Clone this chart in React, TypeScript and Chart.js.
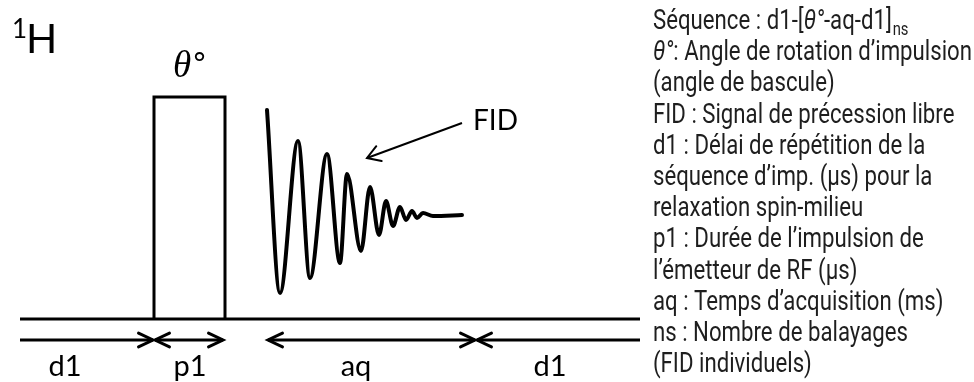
import React, { useEffect, useRef } from 'react';
import { Chart, registerables } from 'chart.js';

Chart.register(...registerables);

// ---- Sequence data (x: position along the time line, y: amplitude above the base line) ----
const X_RANGE = [0, 974];
const Y_RANGE = [-63, 319];

const TRACK_START = 20;
const TRACK_END = 640;

const PULSE_START = 154;
const PULSE_END = 225;
const PULSE_HEIGHT = 222;
const PULSE_LABEL = 'θ';

const FID_TIME = [267, 280, 298, 310, 327, 340, 347, 361, 370, 379, 386, 393, 400, 406, 412, 417, 423, 433, 462];
const FID_SIGNAL = [209, 26, 178, 41, 165, 56, 145, 68, 132, 84, 118, 93, 112, 99, 108, 101, 106, 103, 104];

const FID_POINTER_X = [462, 367];
const FID_POINTER_Y = [196, 161];
const FID_LABEL = 'FID';
const FID_LABEL_X = 473;
const FID_LABEL_Y = 189;

const DURATION_LABELS = ['d1', 'p1', 'aq', 'd1'];
const DURATION_START = [20, 155, 268, 477];
const DURATION_END = [153, 223, 475, 640];
const DURATION_HEAD_START = [false, true, true, true];
const DURATION_HEAD_END = [true, true, true, false];
const DURATION_LABEL_X = [65, 190, 356, 550];
const DURATION_LEVEL = -21;
const DURATION_LABEL_LEVEL = -57;

const NUCLEUS_MASS = '1';
const NUCLEUS_SYMBOL = 'H';

const NOTE_LINES = [
  'Séquence : d1-[θ°-aq-d1]_ns',
  'θ°: Angle de rotation d’impulsion',
  '(angle de bascule)',
  'FID : Signal de précession libre',
  'd1 : Délai de répétition de la',
  'séquence d’imp. (µs) pour la',
  'relaxation spin-milieu',
  'p1 : Durée de l’impulsion de',
  'l’émetteur de RF (µs)',
  'aq : Temps d’acquisition (ms)',
  'ns : Nombre de balayages',
  '(FID individuels)',
];

const INK = '#000000';
const NOTE_INK = '#1e1e1e';
const LABEL_FONT = 'Lato, "Open Sans", sans-serif';
const NOTE_FONT = 'Roboto, "Liberation Sans", sans-serif';
const NOTE_WEIGHT = '400';

function drawHead(ctx: CanvasRenderingContext2D, tx: number, ty: number, fx: number, fy: number, len: number, spread: number, width: number) {
  const ang = Math.atan2(fy - ty, fx - tx);
  ctx.save();
  ctx.lineWidth = width;
  ctx.lineCap = 'round';
  ctx.lineJoin = 'miter';
  ctx.strokeStyle = INK;
  ctx.beginPath();
  ctx.moveTo(tx + len * Math.cos(ang + spread), ty + len * Math.sin(ang + spread));
  ctx.lineTo(tx, ty);
  ctx.lineTo(tx + len * Math.cos(ang - spread), ty + len * Math.sin(ang - spread));
  ctx.stroke();
  ctx.restore();
}

function noteFont(size: number, italic: boolean) {
  return (italic ? 'italic ' : '') + NOTE_WEIGHT + ' ' + size + 'px ' + NOTE_FONT;
}

function drawNoteLine(ctx: CanvasRenderingContext2D, line: string, x: number, y: number, size: number, sx: number) {
  const [main, sub] = line.split('_');
  ctx.save();
  ctx.translate(x, y);
  ctx.scale(sx, 1);
  let cx = 0;
  main.split(/(θ°?)/).forEach((part) => {
    if (!part) return;
    ctx.font = noteFont(size, part.startsWith('θ'));
    ctx.fillText(part, cx, 0);
    cx += ctx.measureText(part).width;
  });
  if (sub) {
    ctx.font = noteFont(Math.round(size * 0.68), false);
    ctx.fillText(sub, cx + 1, size * 0.24);
  }
  ctx.restore();
}

const diagramPlugin = {
  id: 'pulseDiagram',
  afterDatasetsDraw(chart: any) {
    const ctx: CanvasRenderingContext2D = chart.ctx;
    const xs = chart.scales.x;
    const ys = chart.scales.y;
    const px = (v: number) => xs.getPixelForValue(v);
    const py = (v: number) => ys.getPixelForValue(v);

    // duration arrowheads
    DURATION_START.forEach((s, i) => {
      const e = DURATION_END[i];
      const y = py(DURATION_LEVEL);
      if (DURATION_HEAD_START[i]) drawHead(ctx, px(s), y, px(e), y, 16, 0.44, 3);
      if (DURATION_HEAD_END[i]) drawHead(ctx, px(e), y, px(s), y, 16, 0.44, 3);
    });

    // FID pointer head
    drawHead(ctx, px(FID_POINTER_X[1]), py(FID_POINTER_Y[1]), px(FID_POINTER_X[0]), py(FID_POINTER_Y[0]), 15, 0.55, 2);

    ctx.save();
    ctx.fillStyle = INK;
    ctx.textBaseline = 'alphabetic';

    // duration labels
    ctx.font = '29px ' + LABEL_FONT;
    ctx.textAlign = 'center';
    DURATION_LABELS.forEach((lab, i) => {
      ctx.fillText(lab, px(DURATION_LABEL_X[i]), py(DURATION_LABEL_LEVEL));
    });

    // FID label
    ctx.textAlign = 'left';
    ctx.font = '28px ' + LABEL_FONT;
    ctx.fillText(FID_LABEL, px(FID_LABEL_X), py(FID_LABEL_Y));

    // nucleus label
    ctx.font = '26px ' + LABEL_FONT;
    ctx.fillText(NUCLEUS_MASS, 12, 38);
    ctx.font = '41px ' + LABEL_FONT;
    ctx.fillText(NUCLEUS_SYMBOL, 26, 53);

    // pulse angle label
    const cx = (px(PULSE_START) + px(PULSE_END)) / 2;
    ctx.font = 'italic 37px "Liberation Serif", serif';
    const tw = ctx.measureText(PULSE_LABEL).width;
    ctx.font = '30px "DejaVu Sans", sans-serif';
    const dw = ctx.measureText('°').width;
    const startX = cx - (tw + dw) / 2;
    ctx.font = 'italic 37px "Liberation Serif", serif';
    ctx.fillText(PULSE_LABEL, startX, 77);
    ctx.font = '30px "DejaVu Sans", sans-serif';
    ctx.fillText('°', startX + tw + 1, 74);

    // notes
    ctx.fillStyle = NOTE_INK;
    const size = 27;
    let ref = 0;
    NOTE_LINES[1].split(/(θ°?)/).forEach((p) => {
      if (!p) return;
      ctx.font = noteFont(size, p.startsWith('θ'));
      ref += ctx.measureText(p).width;
    });
    const sx = 319 / ref;
    NOTE_LINES.forEach((line, i) => {
      drawNoteLine(ctx, line, 653, 29 + i * 31.2, size, sx);
    });
    ctx.restore();
  },
};

export default function App() {
  const ref = useRef<HTMLCanvasElement | null>(null);

  useEffect(() => {
    document.body.style.margin = '0';
    const canvas = ref.current;
    if (!canvas) return;

    const line = (data: { x: number; y: number }[], width: number, extra: any = {}) => ({
      data,
      showLine: true,
      borderColor: INK,
      borderWidth: width,
      pointRadius: 0,
      fill: false,
      clip: false,
      tension: 0,
      ...extra,
    });

    const datasets: any[] = [
      line([{ x: TRACK_START, y: 0 }, { x: TRACK_END, y: 0 }], 3),
      line(
        [
          { x: PULSE_START, y: 0 },
          { x: PULSE_START, y: PULSE_HEIGHT },
          { x: PULSE_END, y: PULSE_HEIGHT },
          { x: PULSE_END, y: 0 },
        ],
        3,
        { borderJoinStyle: 'miter' }
      ),
      line(
        FID_TIME.map((t, i) => ({ x: t, y: FID_SIGNAL[i] })),
        4,
        { cubicInterpolationMode: 'monotone', borderJoinStyle: 'round', borderCapStyle: 'round' }
      ),
      line(FID_POINTER_X.map((x, i) => ({ x, y: FID_POINTER_Y[i] })), 2),
      ...DURATION_START.map((s, i) =>
        line([{ x: s, y: DURATION_LEVEL }, { x: DURATION_END[i], y: DURATION_LEVEL }], 3)
      ),
    ];

    const chart = new Chart(canvas, {
      type: 'scatter',
      data: { datasets },
      options: {
        animation: false,
        responsive: true,
        maintainAspectRatio: false,
        events: [],
        layout: { padding: 0 },
        plugins: { legend: { display: false }, tooltip: { enabled: false } },
        scales: {
          x: { type: 'linear', min: X_RANGE[0], max: X_RANGE[1], display: false },
          y: { type: 'linear', min: Y_RANGE[0], max: Y_RANGE[1], display: false },
        },
      },
      plugins: [diagramPlugin],
    });
    return () => chart.destroy();
  }, []);

  return (
    <div style={{ position: 'absolute', left: 0, top: 0, width: 974, height: 382, background: '#fff' }}>
      <canvas ref={ref} />
    </div>
  );
}
